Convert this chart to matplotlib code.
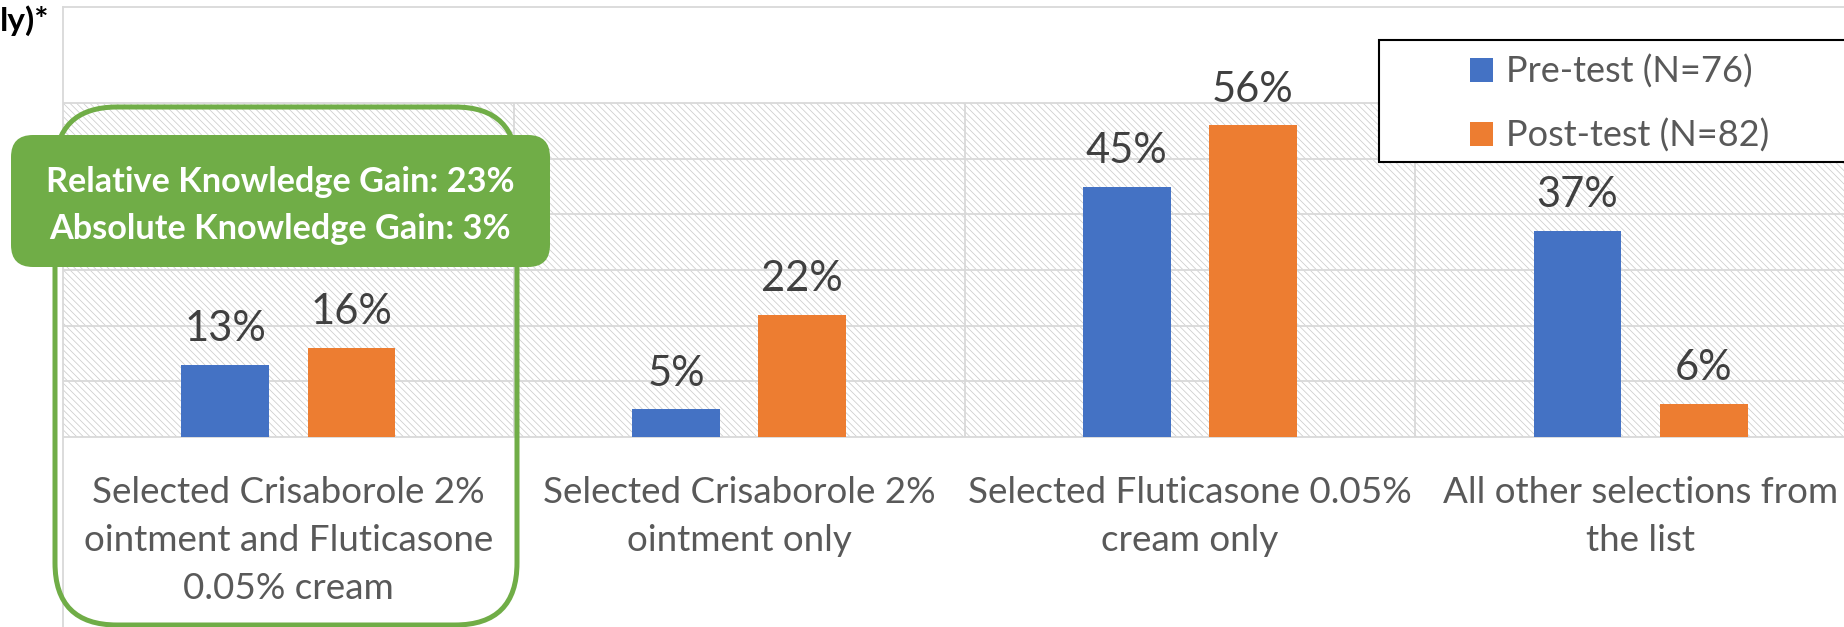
import numpy as np
import matplotlib
matplotlib.use("Agg")
import matplotlib.pyplot as plt
from matplotlib.patches import Rectangle, FancyBboxPatch
from matplotlib.lines import Line2D
from matplotlib.transforms import IdentityTransform

categories = ["Selected Crisaborole 2%\nointment and Fluticasone\n0.05% cream",
              "Selected Crisaborole 2%\nointment only",
              "Selected Fluticasone 0.05%\ncream only",
              "All other selections from\nthe list"]
pre_test = [13, 5, 45, 37]
post_test = [16, 22, 56, 6]
series_names = ["Pre-test (N=76)", "Post-test (N=82)"]
gain_lines = ["Relative Knowledge Gain: 23%", "Absolute Knowledge Gain: 3%"]
title_tail = "ly)*"

W, H = 1844, 627
BLUE = '#4472C4'
ORANGE = '#ED7D31'
GREEN = '#70AD47'
GRID = '#D9D9D9'
TXT = '#595959'
LBL = '#404040'

plt.rcParams['font.family'] = ['Lato', 'DejaVu Sans']
plt.rcParams['hatch.linewidth'] = 0.55

fig = plt.figure(figsize=(W / 100, H / 100), dpi=100)
px = IdentityTransform()


def fy(y):
    # image rows count from the top, display pixels from the bottom
    return H - y


# plot area runs past the right edge of the canvas
ax = fig.add_axes([63 / W, (H - 437) / H, 1803 / W, 334 / H])
ax.set_xlim(-0.5, 3.5)
ax.set_ylim(0, 60)
ax.set_facecolor('none')
for s in ax.spines.values():
    s.set_visible(False)

ax.add_patch(Rectangle((0, 0), 1, 1, transform=ax.transAxes, facecolor='white',
                       edgecolor='#CCCCCC', linewidth=0, hatch='\\\\\\\\\\', zorder=0))
ax.hlines(np.arange(0, 61, 10), -0.5, 3.5, color=GRID, lw=1.3, zorder=1, clip_on=False)
ax.vlines([0.5, 1.5, 2.5], 0, 60, color=GRID, lw=1.3, zorder=1)

x = np.arange(len(categories))
b1 = ax.bar(x - 0.14, pre_test, 0.195, color=BLUE, zorder=3)
b2 = ax.bar(x + 0.14, post_test, 0.195, color=ORANGE, zorder=3)
for bars in (b1, b2):
    ax.bar_label(bars, fmt='%d%%', padding=12, fontsize=30, color=LBL)

ax.set_yticks([])
ax.set_xticks(x, categories)
ax.tick_params(axis='x', length=0, pad=28, labelsize=26.5, labelcolor=TXT)
for t in ax.get_xticklabels():
    t.set_linespacing(1.56)

# outer chart frame
fig.add_artist(Line2D([63, 63], [fy(7), fy(627)], transform=px, color=GRID, lw=1.3, zorder=1))
fig.add_artist(Line2D([63, W], [fy(7), fy(7)], transform=px, color=GRID, lw=1.3, zorder=1))

fig.text(0, fy(31), title_tail, transform=px, ha='left', va='baseline',
         fontsize=24, fontweight='bold', color='black')

# legend with its own frame
fig.add_artist(Rectangle((1379, fy(162)), 500, 122, transform=px, facecolor='white',
                         edgecolor='black', lw=1.5, zorder=4))
fig.legend([b1, b2], series_names, loc='upper left', bbox_to_anchor=(1470, fy(55)),
           bbox_transform=px, frameon=False, fontsize=26, labelcolor=TXT,
           handlelength=0.64, handleheight=0.64, handletextpad=0.35,
           labelspacing=0.81, borderpad=0, borderaxespad=0).set_zorder(5)

# highlight around the first category
fig.add_artist(FancyBboxPatch((55, fy(625)), 462, 518, boxstyle='round,pad=0,rounding_size=62',
                              transform=px, fill=False, edgecolor=GREEN, lw=3.6, zorder=6))
fig.add_artist(FancyBboxPatch((11, fy(267)), 539, 132, boxstyle='round,pad=0,rounding_size=22',
                              transform=px, facecolor=GREEN, edgecolor='none', zorder=7))
for line, yb in zip(gain_lines, (192, 239)):
    fig.text(280, fy(yb), line, transform=px, ha='center', va='baseline', fontsize=24.7,
             fontweight='bold', color='white', zorder=8)

fig.savefig('out.png', dpi=100)
